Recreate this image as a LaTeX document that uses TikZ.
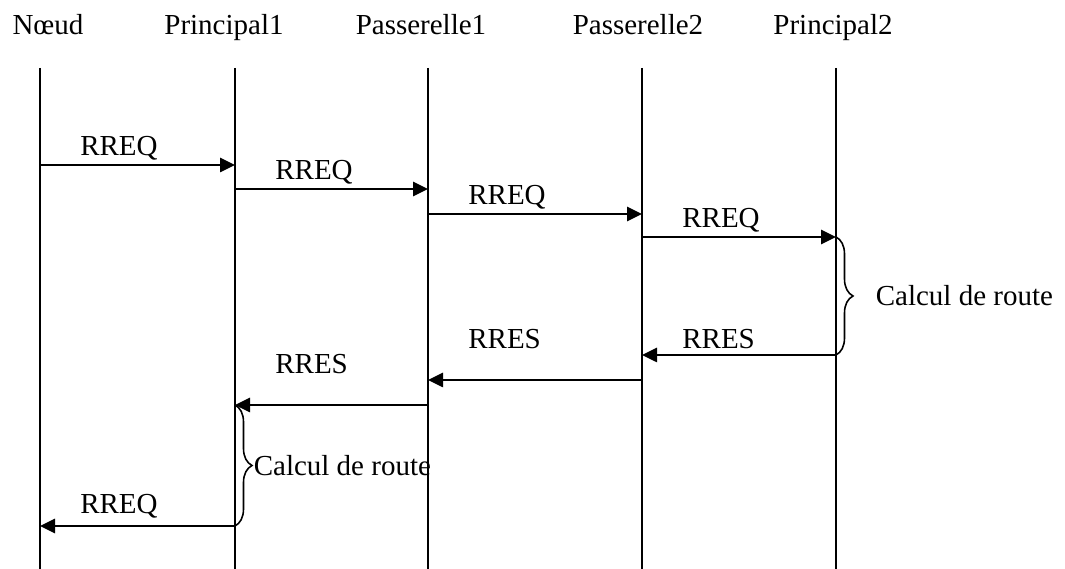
\documentclass[tikz,border=0pt]{standalone}
\usepackage{fontspec}
\setmainfont{Liberation Serif}
\usetikzlibrary{arrows.meta,decorations.pathreplacing}

\begin{document}
\begin{tikzpicture}[
  every node/.style={font=\fontsize{16.5}{19}\selectfont, inner sep=0pt},
  head/.style={anchor=base},
  life/.style={line width=0.9pt},
  msg/.style={-{Triangle[length=0.3cm, width=0.28cm]}, line width=1.5pt},
  lbl/.style={anchor=base west, xshift=0.78cm, yshift=0.18cm},
  brc/.style={decorate, decoration={brace, amplitude=0.34cm}, line width=0.9pt}
]
  \useasboundingbox (0,0) rectangle (21.3,11.38);

  % entities
  \node[head] (noeud)  at (0.96,10.68)  {Nœud};
  \node[head] (princ1) at (4.48,10.68)  {Principal1};
  \node[head] (pass1)  at (8.42,10.68)  {Passerelle1};
  \node[head] (pass2)  at (12.76,10.68) {Passerelle2};
  \node[head] (princ2) at (16.66,10.68) {Principal2};

  % lifelines
  \foreach \n/\x in {noeud/0.8, princ1/4.7, pass1/8.56, pass2/12.84, princ2/16.72} {
    \coordinate (\n-t) at (\x,10.02);
    \coordinate (\n-b) at (\x,0);
    \draw[life] (\n-t) -- (\n-b);
  }

  % route request
  \draw[msg] (noeud-t |- 0,8.08) -- (princ1-t |- 0,8.08) node[lbl, at start] {RREQ};
  \draw[msg] (princ1-t |- 0,7.6) -- (pass1-t |- 0,7.6)   node[lbl, at start] {RREQ};
  \draw[msg] (pass1-t |- 0,7.1) -- (pass2-t |- 0,7.1)    node[lbl, at start] {RREQ};
  \draw[msg] (pass2-t |- 0,6.64) -- (princ2-t |- 0,6.64) node[lbl, at start] {RREQ};

  \draw[brc] (princ2-t |- 0,6.64) -- (princ2-t |- 0,4.28)
    node[midway, anchor=west, xshift=0.78cm] {Calcul de route};

  % route reply
  \draw[msg] (princ2-t |- 0,4.28) -- (pass2-t |- 0,4.28)
    node[lbl, at end, yshift=-0.05cm] {RRES};
  \draw[msg] (pass2-t |- 0,3.78) -- (pass1-t |- 0,3.78)
    node[lbl, at end, yshift=0.44cm] {RRES};
  \draw[msg] (pass1-t |- 0,3.28) -- (princ1-t |- 0,3.28)
    node[lbl, at end, yshift=0.44cm] {RRES};

  \draw[brc] (princ1-t |- 0,3.28) -- (princ1-t |- 0,0.86)
    node[midway, anchor=west, xshift=0.36cm] {Calcul de route};

  \draw[msg] (princ1-t |- 0,0.86) -- (noeud-t |- 0,0.86)
    node[lbl, at end, yshift=0.06cm] {RREQ};
\end{tikzpicture}
\end{document}
